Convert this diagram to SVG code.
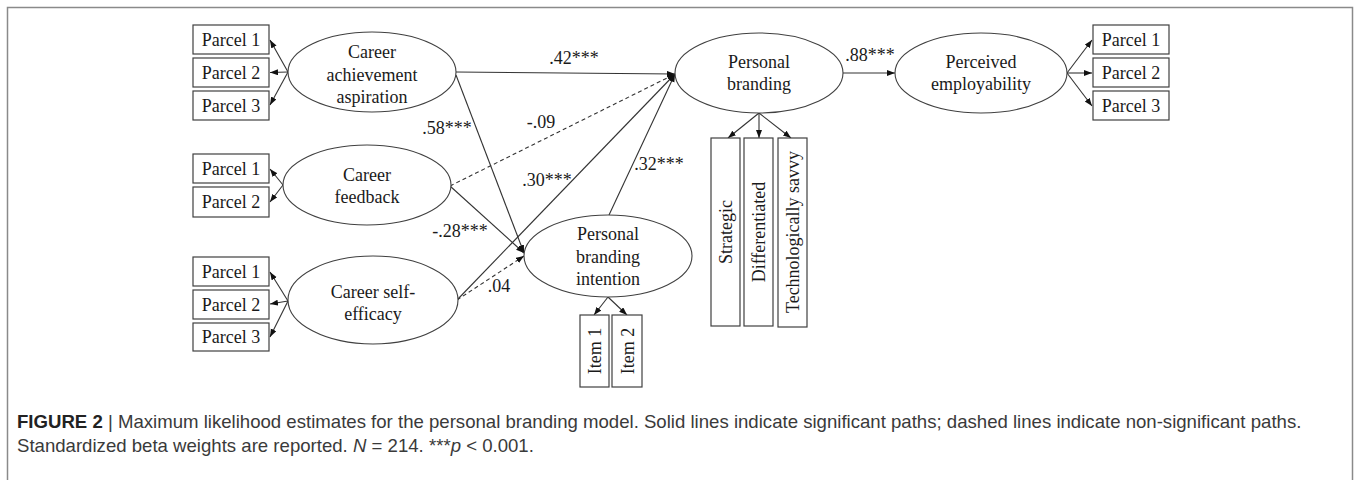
<svg xmlns="http://www.w3.org/2000/svg" width="1354" height="480" viewBox="0 0 1354 480">
<style>
.bx{fill:#fff;stroke:#404040;stroke-width:1.2}
.el{fill:#fff;stroke:#404040;stroke-width:1.1}
.t{font-family:"Liberation Serif","Times New Roman",serif;font-size:18px;fill:#1a1a1a}
.c{text-anchor:middle}
.ln{stroke:#333;stroke-width:1.1;fill:none;marker-end:url(#ah)}
.ds{stroke-dasharray:4,3}
.cap{font-family:"Liberation Sans",Arial,sans-serif;font-size:18.6px;fill:#3a3a3a}
</style>
<defs>
<marker id="ah" markerUnits="userSpaceOnUse" markerWidth="9" markerHeight="7" refX="8" refY="3" orient="auto">
<path d="M0,0 L8,3 L0,6 z" fill="#111"/>
</marker>
</defs>
<rect x="7.5" y="7.5" width="1345" height="490" fill="none" stroke="#8a8a8a" stroke-width="1.5"/>

<g id="connectors">
<line class="ln" x1="288" y1="72" x2="270" y2="40"/>
<line class="ln" x1="288" y1="72" x2="270" y2="72.5"/>
<line class="ln" x1="288" y1="72" x2="270" y2="105"/>
<line class="ln" x1="283" y1="185" x2="270" y2="169"/>
<line class="ln" x1="283" y1="185" x2="270" y2="202"/>
<line class="ln" x1="288" y1="301" x2="270" y2="272"/>
<line class="ln" x1="288" y1="301" x2="270" y2="304"/>
<line class="ln" x1="288" y1="301" x2="270" y2="337"/>
<line class="ln" x1="1067" y1="73" x2="1092" y2="40"/>
<line class="ln" x1="1067" y1="73" x2="1092" y2="73"/>
<line class="ln" x1="1067" y1="73" x2="1092" y2="106"/>
<line class="ln" x1="759" y1="113" x2="728" y2="138"/>
<line class="ln" x1="759" y1="113" x2="759" y2="138"/>
<line class="ln" x1="759" y1="113" x2="791" y2="138"/>
<line class="ln" x1="608" y1="297" x2="594" y2="315"/>
<line class="ln" x1="608" y1="297" x2="627" y2="315"/>
<line class="ln" x1="456" y1="72" x2="675" y2="74"/>
<line class="ln" x1="456" y1="75" x2="524" y2="253"/>
<line class="ln ds" x1="450" y1="186" x2="675" y2="74"/>
<line class="ln" x1="450" y1="186" x2="524" y2="253"/>
<line class="ln" x1="457" y1="300" x2="675" y2="74"/>
<line class="ln ds" x1="457" y1="300" x2="524" y2="256"/>
<line class="ln" x1="609" y1="215" x2="675" y2="74"/>
<line class="ln" x1="843" y1="73" x2="895" y2="73"/>
<text class="t c" x="574" y="64">.42***</text>
<text class="t c" x="447" y="134">.58***</text>
<text class="t c" x="541" y="128">-.09</text>
<text class="t c" x="547" y="186">.30***</text>
<text class="t c" x="659" y="170">.32***</text>
<text class="t c" x="460" y="237">-.28***</text>
<text class="t c" x="499" y="292">.04</text>
<text class="t c" x="870" y="61">.88***</text>
</g>

<g id="aspiration-parcel-1"><rect class="bx" x="193" y="25" width="76" height="29"/><text class="t c" x="231" y="46">Parcel 1</text></g>
<g id="aspiration-parcel-2"><rect class="bx" x="193" y="58" width="76" height="29"/><text class="t c" x="231" y="79">Parcel 2</text></g>
<g id="aspiration-parcel-3"><rect class="bx" x="193" y="91" width="76" height="29"/><text class="t c" x="231" y="112">Parcel 3</text></g>
<g id="feedback-parcel-1"><rect class="bx" x="193" y="154" width="76" height="29"/><text class="t c" x="231" y="175">Parcel 1</text></g>
<g id="feedback-parcel-2"><rect class="bx" x="193" y="187" width="76" height="30"/><text class="t c" x="231" y="208">Parcel 2</text></g>
<g id="efficacy-parcel-1"><rect class="bx" x="193" y="257" width="76" height="29"/><text class="t c" x="231" y="278">Parcel 1</text></g>
<g id="efficacy-parcel-2"><rect class="bx" x="193" y="290" width="76" height="29"/><text class="t c" x="231" y="311">Parcel 2</text></g>
<g id="efficacy-parcel-3"><rect class="bx" x="193" y="323" width="76" height="28"/><text class="t c" x="231" y="343">Parcel 3</text></g>
<g id="employ-parcel-1"><rect class="bx" x="1093" y="25" width="76" height="29"/><text class="t c" x="1131" y="46">Parcel 1</text></g>
<g id="employ-parcel-2"><rect class="bx" x="1093" y="58" width="76" height="29"/><text class="t c" x="1131" y="79">Parcel 2</text></g>
<g id="employ-parcel-3"><rect class="bx" x="1093" y="91" width="76" height="29"/><text class="t c" x="1131" y="112">Parcel 3</text></g>

<g id="career-achievement-aspiration"><ellipse class="el" cx="372" cy="72" rx="84" ry="40"/><text class="t c" x="372" y="58">Career</text><text class="t c" x="372" y="81">achievement</text><text class="t c" x="372" y="103">aspiration</text></g>
<g id="career-feedback"><ellipse class="el" cx="367" cy="185" rx="84" ry="40"/><text class="t c" x="367" y="181">Career</text><text class="t c" x="367" y="203">feedback</text></g>
<g id="career-self-efficacy"><ellipse class="el" cx="373" cy="300" rx="85" ry="44"/><text class="t c" x="373" y="298">Career self-</text><text class="t c" x="373" y="320">efficacy</text></g>
<g id="personal-branding-intention"><ellipse class="el" cx="608" cy="256" rx="84" ry="41"/><text class="t c" x="608" y="240">Personal</text><text class="t c" x="608" y="263">branding</text><text class="t c" x="608" y="285">intention</text></g>
<g id="personal-branding"><ellipse class="el" cx="759" cy="73" rx="84" ry="40"/><text class="t c" x="759" y="68">Personal</text><text class="t c" x="759" y="90">branding</text></g>
<g id="perceived-employability"><ellipse class="el" cx="981" cy="73" rx="86" ry="40"/><text class="t c" x="981" y="68">Perceived</text><text class="t c" x="981" y="90">employability</text></g>

<g id="item-1"><rect class="bx" x="580" y="315" width="29" height="72"/><text class="t c" transform="translate(601,351) rotate(-90)">Item 1</text></g>
<g id="item-2"><rect class="bx" x="612" y="315" width="30" height="72"/><text class="t c" transform="translate(633.5,351) rotate(-90)">Item 2</text></g>
<g id="strategic"><rect class="bx" x="711" y="138" width="29" height="188"/><text class="t c" transform="translate(731.5,232) rotate(-90)">Strategic</text></g>
<g id="differentiated"><rect class="bx" x="744" y="138" width="29" height="188"/><text class="t c" transform="translate(764.5,232) rotate(-90)">Differentiated</text></g>
<g id="technologically-savvy"><rect class="bx" x="778" y="138" width="29" height="189"/><text class="t c" transform="translate(798.5,232) rotate(-90)">Technologically  savvy</text></g>

<g id="caption">
<text class="cap" x="17" y="428"><tspan font-weight="bold" fill="#222">FIGURE 2</tspan> | Maximum likelihood estimates for the personal branding model. Solid lines indicate significant paths; dashed lines indicate non-significant paths.</text>
<text class="cap" x="17" y="452">Standardized beta weights are reported. <tspan font-style="italic">N</tspan> = 214. ***<tspan font-style="italic">p</tspan> &lt; 0.001.</text>
</g>
</svg>
